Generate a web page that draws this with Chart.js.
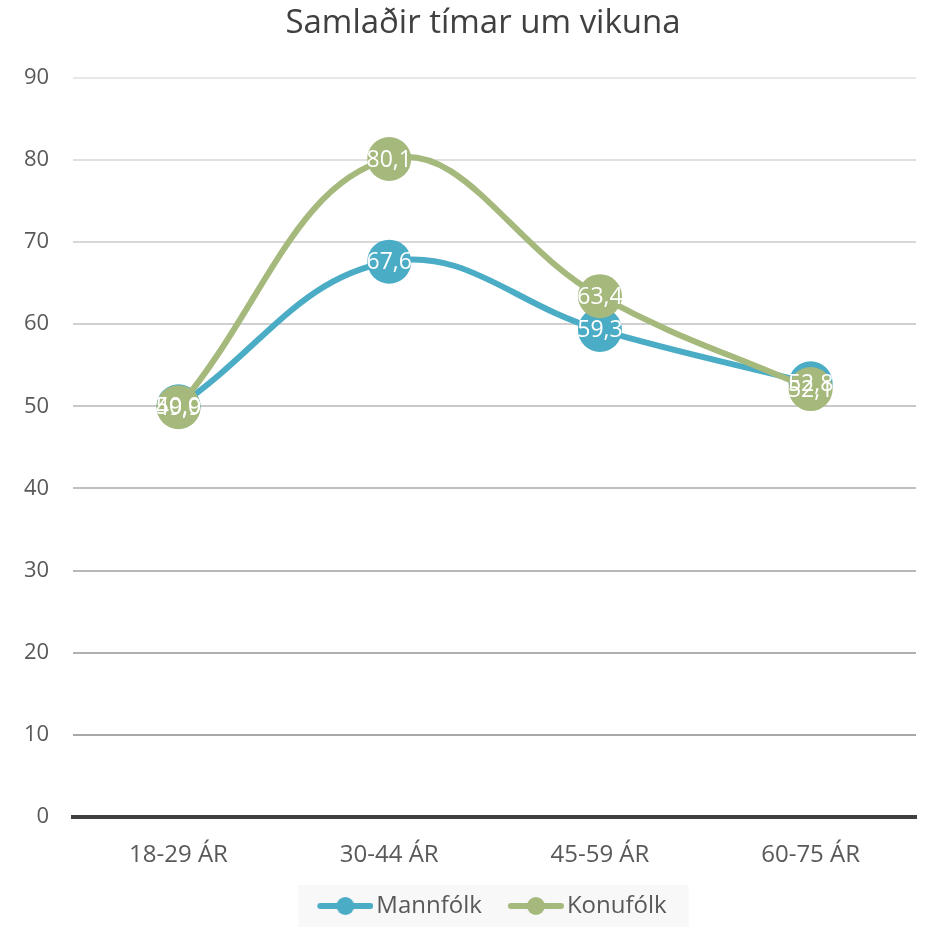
<!DOCTYPE html>
<html>
<head>
<meta charset="utf-8">
<script src="https://cdn.jsdelivr.net/npm/chart.js@4/dist/chart.umd.min.js"></script>
<style>
  html, body { margin: 0; padding: 0; background: #fff; }
  #wrap { width: 938px; height: 931px; }
</style>
</head>
<body>
<div id="wrap"><canvas id="c" width="938" height="931"></canvas></div>
<script>
const categories = ["18-29 ÁR", "30-44 ÁR", "45-59 ÁR", "60-75 ÁR"];
const mannfolk = [50.0, 67.6, 59.3, 52.8];
const konufolk = [49.9, 80.1, 63.4, 52.1];
const yTicks = [0, 10, 20, 30, 40, 50, 60, 70, 80, 90];

const BLUE = '#4bacc6';
const GREEN = '#a5b97d';
const FONT = 'Open Sans';

// legend marker: blank lead-in, then a short line with a dot in the middle
const MARK_W = 83, LEAD = 27;
function marker(color) {
  const c = document.createElement('canvas');
  c.width = MARK_W; c.height = 22;
  const g = c.getContext('2d');
  g.strokeStyle = color;
  g.lineWidth = 6;
  g.lineCap = 'round';
  g.beginPath(); g.moveTo(LEAD + 3, 11); g.lineTo(LEAD + 53, 11); g.stroke();
  g.fillStyle = color;
  g.beginPath(); g.arc(LEAD + 28, 11, 9, 0, Math.PI * 2); g.fill();
  return c;
}

const fmt = v => v.toFixed(1).replace('.', ',');

// grid lines get darker toward the bottom
function gridColor(ctx) {
  const v = ctx.tick ? ctx.tick.value : 0;
  if (v === 0) return 'rgba(0,0,0,0)';
  const t = (v - 10) / 80;
  const c = Math.round(168 + t * (232 - 168));
  return `rgb(${c},${c},${c})`;
}

const labelPlugin = {
  id: 'pointLabels',
  afterDatasetsDraw(chart) {
    const {ctx} = chart;
    ctx.save();
    ctx.font = `23px "${FONT}"`;
    ctx.fillStyle = '#ffffff';
    ctx.textAlign = 'center';
    ctx.textBaseline = 'middle';
    chart.data.datasets.forEach((ds, i) => {
      chart.getDatasetMeta(i).data.forEach((pt, j) => {
        ctx.fillText(fmt(ds.data[j]), pt.x, pt.y + 1);
      });
    });
    ctx.restore();
  }
};

const legendBg = {
  id: 'legendBg',
  beforeDraw(chart) {
    const boxes = chart.legend && chart.legend.legendHitBoxes;
    if (!boxes || !boxes.length) return;
    const left = Math.min(...boxes.map(b => b.left)) - 1;
    const right = Math.max(...boxes.map(b => b.left + b.width)) + 22;
    const top = Math.min(...boxes.map(b => b.top)) - 9;
    const bottom = Math.max(...boxes.map(b => b.top + b.height)) + 9;
    const {ctx} = chart;
    ctx.save();
    ctx.fillStyle = '#f8f8f8';
    ctx.fillRect(left, top, right - left, bottom - top);
    ctx.restore();
  }
};

const markers = [marker(BLUE), marker(GREEN)];

new Chart(document.getElementById('c'), {
  type: 'line',
  data: {
    labels: categories,
    datasets: [
      {
        label: 'Mannfólk',
        data: mannfolk,
        order: 1,
        borderColor: BLUE,
        backgroundColor: BLUE,
        borderWidth: 6,
        pointRadius: 22,
        pointHoverRadius: 22,
        pointBorderWidth: 0,
        tension: 0.4
      },
      {
        label: 'Konufólk',
        data: konufolk,
        order: 0,
        borderColor: GREEN,
        backgroundColor: GREEN,
        borderWidth: 6,
        pointRadius: 22,
        pointHoverRadius: 22,
        pointBorderWidth: 0,
        tension: 0.4
      }
    ]
  },
  options: {
    responsive: false,
    animation: false,
    layout: { padding: { left: 0, right: -28, top: 0, bottom: 3 } },
    scales: {
      x: {
        offset: true,
        grid: { display: false },
        border: { display: true, color: '#404040', width: 4 },
        ticks: { color: '#595959', font: { family: FONT, size: 24 }, padding: 16 },
        // let the plot run to the right edge of the canvas
        afterFit: scale => { scale.paddingRight = 0; }
      },
      y: {
        min: 0,
        max: 90,
        afterBuildTicks: axis => { axis.ticks = yTicks.map(v => ({ value: v })); },
        grid: { color: gridColor, lineWidth: 2, drawTicks: false },
        border: { display: false },
        ticks: { color: '#595959', font: { family: FONT, size: 22 }, padding: 24 }
      }
    },
    plugins: {
      title: {
        display: true,
        text: 'Samlaðir tímar um vikuna',
        color: '#404040',
        font: { family: FONT, size: 33, weight: 'normal' },
        padding: { top: 4, bottom: 34 }
      },
      legend: {
        position: 'bottom',
        labels: {
          usePointStyle: true,
          pointStyleWidth: MARK_W - 18,
          color: '#595959',
          font: { family: FONT, size: 24 },
          padding: 8,
          generateLabels: chart => chart.data.datasets.map((ds, i) => ({
            text: ds.label,
            pointStyle: markers[i],
            fillStyle: ds.borderColor,
            strokeStyle: ds.borderColor,
            lineWidth: 0,
            fontColor: '#595959',
            hidden: false,
            datasetIndex: i
          }))
        }
      },
      tooltip: { enabled: false }
    }
  },
  plugins: [legendBg, labelPlugin]
});
</script>
</body>
</html>
